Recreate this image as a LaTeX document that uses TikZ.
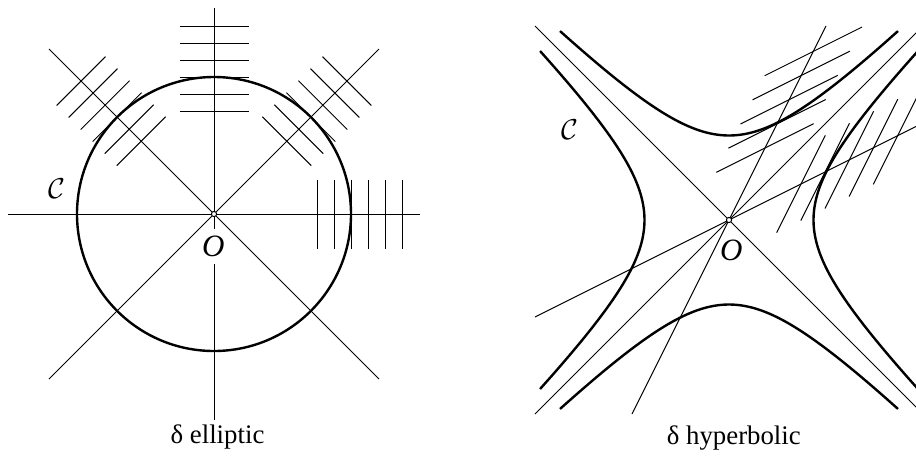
\documentclass[tikz,border=0pt]{standalone}
\usepackage{fontspec}
\setmainfont{Liberation Serif}

\begin{document}
\begin{tikzpicture}[
    x=0.5pt, y=-0.5pt,
    axis/.style={line width=0.5pt},
    curve/.style={line width=1.2pt},
    hatch/.style={line width=0.5pt},
    dot/.style={circle, draw, line width=0.5pt, fill=white, inner sep=0pt, minimum size=2.6pt},
    lbl/.style={font=\fontsize{13.4}{16}\selectfont, inner sep=1pt},
    olbl/.style={font=\fontsize{15.5}{18}\selectfont\itshape, inner sep=1pt}
]
    \useasboundingbox (0,0) rectangle (916,457);
    \clip (0,0) rectangle (916,457);

    % Elliptic case
    \coordinate (E) at (214,214);
    \draw[axis] (8,214) -- (420,214);
    \draw[axis] (214,8) -- (214,420);
    \draw[axis] (49,49) -- (379,379);
    \draw[axis] (49,379) -- (379,49);
    \draw[curve] (E) circle[radius=137];

    % Hatches across the rays
    \begin{scope}[shift={(E)}, rotate=0]
        \draw[hatch] (103,-34.5) -- (103,34.5) (120,-34.5) -- (120,34.5) (137,-34.5) -- (137,34.5)
                     (154,-34.5) -- (154,34.5) (171,-34.5) -- (171,34.5) (188,-34.5) -- (188,34.5);
    \end{scope}
    \begin{scope}[shift={(E)}, rotate=45]
        \draw[hatch] (103,-34.5) -- (103,34.5) (120,-34.5) -- (120,34.5) (137,-34.5) -- (137,34.5)
                     (154,-34.5) -- (154,34.5) (171,-34.5) -- (171,34.5) (188,-34.5) -- (188,34.5);
    \end{scope}
    \begin{scope}[shift={(E)}, rotate=90]
        \draw[hatch] (103,-34.5) -- (103,34.5) (120,-34.5) -- (120,34.5) (137,-34.5) -- (137,34.5)
                     (154,-34.5) -- (154,34.5) (171,-34.5) -- (171,34.5) (188,-34.5) -- (188,34.5);
    \end{scope}
    \begin{scope}[shift={(E)}, rotate=135]
        \draw[hatch] (103,-34.5) -- (103,34.5) (120,-34.5) -- (120,34.5) (137,-34.5) -- (137,34.5)
                     (154,-34.5) -- (154,34.5) (171,-34.5) -- (171,34.5) (188,-34.5) -- (188,34.5);
    \end{scope}

    \node[dot] (eo) at (E) {};
    \node[olbl, fill=white, inner xsep=1pt, inner ysep=3.5pt] (eoname) at (213.3,246.7) {O};
    \node[lbl] (ecurve) at (56.7,188.3) {$\mathcal{C}$};
    \node[lbl] (ename) at (217.5,437) {δ elliptic};

    % Hyperbolic case
    \coordinate (H) at (729,220);
    \draw[axis] (535,26) -- (923,414);
    \draw[axis] (535,414) -- (923,26);
    \draw[axis] (632,414) -- (826,26);
    \draw[axis] (535,317) -- (923,123);

    \begin{scope}[shift={(H)}]
        \draw[curve] plot[domain=-1.4436:1.4436, samples=60, smooth] ({-84.5*cosh(\x)}, {84.5*sinh(\x)});
        \draw[curve] plot[domain=-1.4436:1.4436, samples=60, smooth] ({84.5*cosh(\x)}, {84.5*sinh(\x)});
        \draw[curve] plot[domain=-1.4436:1.4436, samples=60, smooth] ({84.5*sinh(\x)}, {-84.5*cosh(\x)});
        \draw[curve] plot[domain=-1.4436:1.4436, samples=60, smooth] ({84.5*sinh(\x)}, {84.5*cosh(\x)});
    \end{scope}

    % Hatches along the two conjugate lines
    \begin{scope}[shift={(H)}, x={(0.4472pt,0.2236pt)}, y={(0.2236pt,0.4472pt)}]
        \draw[hatch] (-54.4,80.5) -- (54.4,80.5) (-54.4,107.5) -- (54.4,107.5) (-54.4,134.5) -- (54.4,134.5)
                     (-54.4,161.5) -- (54.4,161.5) (-54.4,188.5) -- (54.4,188.5);
    \end{scope}
    \begin{scope}[shift={(H)}, x={(0.2236pt,0.4472pt)}, y={(0.4472pt,0.2236pt)}]
        \draw[hatch] (-54.4,80.5) -- (54.4,80.5) (-54.4,107.5) -- (54.4,107.5) (-54.4,134.5) -- (54.4,134.5)
                     (-54.4,161.5) -- (54.4,161.5) (-54.4,188.5) -- (54.4,188.5);
    \end{scope}

    \node[dot] (ho) at (H) {};
    \node[olbl] (honame) at (731.3,250) {O};
    \node[lbl] (hcurve) at (569.7,130) {$\mathcal{C}$};
    \node[lbl] (hname) at (733.8,438) {δ hyperbolic};

\end{tikzpicture}
\end{document}
